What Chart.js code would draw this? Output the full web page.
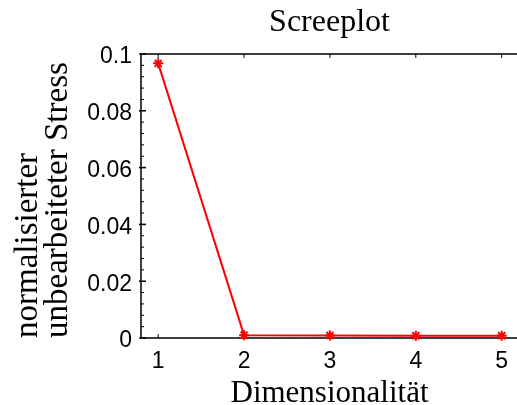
<!DOCTYPE html>
<html><head><meta charset="utf-8">
<script src="https://cdn.jsdelivr.net/npm/chart.js@4.4.1/dist/chart.umd.min.js"></script>
<style>html,body{margin:0;padding:0;background:#fff;overflow:hidden;} #wrap{width:517px;height:405px;overflow:hidden;}</style>
</head><body><div id="wrap"><canvas id="c" width="525" height="405"></canvas></div>
<script>
const dimensions = [1, 2, 3, 4, 5];
const stressValues = [0.0967, 0.0010, 0.0009, 0.0008, 0.0008];
const xTicks = [1, 2, 3, 4, 5];
const yTicks = [0, 0.02, 0.04, 0.06, 0.08, 0.1];
const yTickLabels = ['0', '0.02', '0.04', '0.06', '0.08', '0.1'];
const yMinorTicks = [0.004, 0.008, 0.012, 0.016, 0.024, 0.028, 0.032, 0.036, 0.044, 0.048, 0.052, 0.056, 0.064, 0.068, 0.072, 0.076, 0.084, 0.088, 0.092, 0.096];
const chartTitle = 'Screeplot';
const xTitle = 'Dimensionalität';
const yTitle = ['normalisierter', 'unbearbeiteter Stress'];

const framePlugin = {
  id: 'frame',
  beforeDatasetsDraw(chart) {
    const {ctx, chartArea: a, scales: {x, y}} = chart;
    const seg = (x1, y1, x2, y2) => { ctx.beginPath(); ctx.moveTo(x1, y1); ctx.lineTo(x2, y2); ctx.stroke(); };
    ctx.save();
    ctx.strokeStyle = '#000';
    ctx.lineWidth = 1.5;
    ctx.beginPath();
    ctx.moveTo(a.right + 5, a.top);
    ctx.lineTo(a.left, a.top);
    ctx.lineTo(a.left, a.bottom);
    ctx.lineTo(a.right + 5, a.bottom);
    ctx.stroke();
    yTicks.forEach(v => { const p = y.getPixelForValue(v); seg(a.left - 2, p, a.left + 5, p); });
    ctx.lineWidth = 1;
    yMinorTicks.forEach(v => { const p = y.getPixelForValue(v); seg(a.left, p, a.left + 3, p); });
    xTicks.forEach(v => { const p = x.getPixelForValue(v); seg(p, a.bottom, p, a.bottom - 4); seg(p, a.top, p, a.top + 4); });
    ctx.restore();
  }
};

new Chart(document.getElementById('c'), {
  type: 'scatter',
  data: {
    datasets: [{
      data: dimensions.map((d, i) => ({x: d, y: stressValues[i]})),
      showLine: true,
      borderColor: '#ff0000',
      backgroundColor: '#ff0000',
      borderWidth: 2,
      pointStyle: 'star',
      pointRadius: 5,
      pointBorderWidth: 2,
      pointBorderColor: '#ff0000',
      clip: false
    }]
  },
  options: {
    responsive: false,
    animation: false,
    devicePixelRatio: 1,
    layout: {padding: 0},
    plugins: {
      legend: {display: false},
      tooltip: {enabled: false},
      title: {
        display: true, text: chartTitle, fullSize: false, color: '#000',
        font: {family: 'Liberation Serif', size: 32, weight: 'normal', lineHeight: 1.2},
        padding: {top: 3, bottom: 12.6}
      }
    },
    scales: {
      x: {
        type: 'linear', min: 0.8, max: 5.19,
        afterBuildTicks: s => { s.ticks = xTicks.map(v => ({value: v})); },
        afterFit: s => { s.height = 67; },
        grid: {display: false, drawTicks: false},
        border: {display: false},
        ticks: {color: '#000', font: {family: 'Liberation Sans', size: 23}, padding: 10, maxRotation: 0, autoSkip: false,
          callback: v => String(v)},
        title: {display: true, text: xTitle, color: '#000',
          font: {family: 'Liberation Serif', size: 31, weight: 'normal', lineHeight: 0.8}, padding: {top: 0, bottom: -1}}
      },
      y: {
        min: 0, max: 0.1,
        afterBuildTicks: s => { s.ticks = yTicks.map(v => ({value: v})); },
        afterFit: s => { s.width = 141; },
        grid: {display: false, drawTicks: false},
        border: {display: false},
        ticks: {color: '#000', font: {family: 'Liberation Sans', size: 23}, padding: 9, autoSkip: false, labelOffset: 3,
          callback: (v, i) => yTickLabels[i]},
        title: {display: true, text: yTitle, align: 'start', color: '#000',
          font: {family: 'Liberation Serif', size: 33, weight: 'normal', lineHeight: 0.91}, padding: {top: 13, bottom: 0}}
      }
    }
  },
  plugins: [framePlugin]
});
</script></body></html>
